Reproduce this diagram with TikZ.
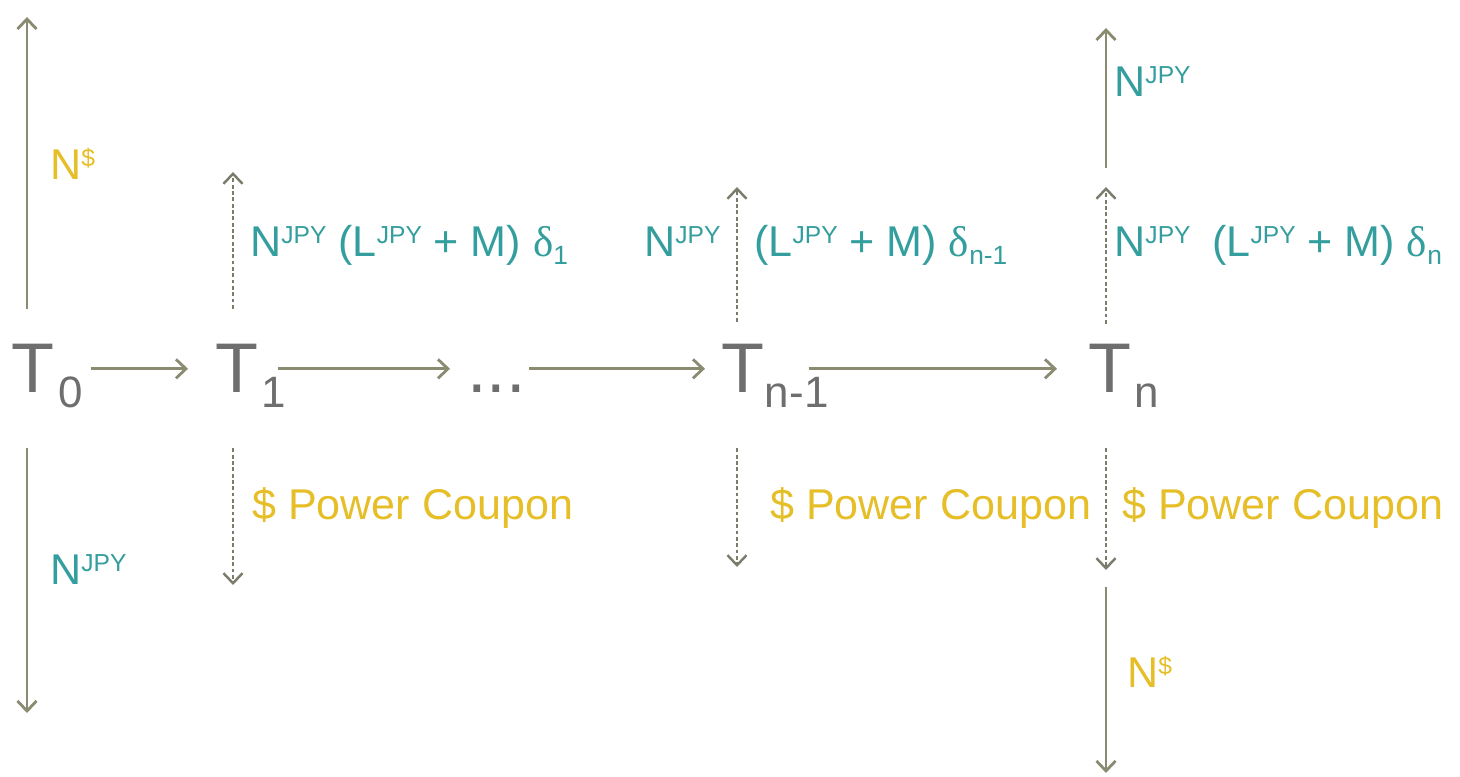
\documentclass[tikz,border=0pt]{standalone}
\usepackage{fontspec}
\setmainfont{Liberation Sans}
\newfontfamily\grkfont{Liberation Serif}
\usetikzlibrary{positioning, arrows.meta}
\definecolor{arrowolive}{HTML}{8A8B70}
\definecolor{dashgray}{HTML}{7C7C6C}
\definecolor{dategray}{HTML}{6E6E6E}
\definecolor{jpyteal}{HTML}{349E9E}
\definecolor{usdgold}{HTML}{E6BE28}
\newcommand{\supx}[1]{\raisebox{7.5pt}{\fontsize{14}{14}\selectfont #1}}
\newcommand{\subx}[1]{\raisebox{-4pt}{\fontsize{15}{15}\selectfont #1}}
\newcommand{\dlt}{{\grkfont δ}}
\tikzset{
  flow/.style={draw=arrowolive, line width=1.6pt, -{Straight Barb[length=2mm,width=3.8mm]}},
  couponflow/.style={draw=dashgray, line width=1.4pt, dash pattern=on 2.2pt off 1.4pt, -{Straight Barb[length=2mm,width=3.8mm]}},
  datelbl/.style={text=dategray, font=\fontsize{40}{40}\selectfont, inner sep=0pt, anchor=base west},
  sublbl/.style={text=dategray, font=\fontsize{25}{25}\selectfont, inner sep=0pt, anchor=base west},
  tealtxt/.style={text=jpyteal, font=\fontsize{24.5}{24.5}\selectfont, inner sep=0pt, anchor=base west},
  goldtxt/.style={text=usdgold, font=\fontsize{24.5}{24.5}\selectfont, inner sep=0pt, anchor=base west}
}

\begin{document}
\begin{tikzpicture}
\useasboundingbox (0,0) rectangle (29.2,15.54);
\node[datelbl] at (0.23,7.68) (T0) {T};
\node[datelbl] at (4.31,7.68) (T1) {T};
\node[datelbl] at (9.34,7.68) (dots) {...};
\node[datelbl] at (14.42,7.68) (Tn1) {T};
\node[datelbl] at (21.77,7.68) (Tn) {T};
\node[sublbl] at ([xshift=0.06cm, yshift=-0.3cm]T0.base east) (s0) {0};
\node[sublbl] at ([xshift=0.04cm, yshift=-0.3cm]T1.base east) (s1) {1};
\node[sublbl] at ([xshift=0.0cm, yshift=-0.3cm]Tn1.base east) (sn1) {n-1};
\node[sublbl] at ([xshift=0.04cm, yshift=-0.3cm]Tn.base east) (sn) {n};
\draw[flow, shorten <=0.71cm, shorten >=0.55cm] (T0.east) -- (T1.west);
\draw[flow, shorten <=0.37cm, shorten >=0.34cm] (T1.east) -- (T1.east -| dots.west);
\draw[flow, shorten <=0.06cm, shorten >=0.32cm] (dots.east |- Tn1.west) -- (Tn1.west);
\draw[flow, shorten <=0.88cm, shorten >=0.63cm] (Tn1.east) -- (Tn.west);
\coordinate (u0) at (0.54,15.2);
\coordinate (d0) at (0.54,1.28);
\coordinate (u1) at (4.66,12.1);
\coordinate (d1) at (4.66,3.84);
\coordinate (un1) at (14.74,11.8);
\coordinate (dn1) at (14.74,4.2);
\coordinate (un) at (22.12,11.8);
\coordinate (unmid) at (22.12,12.18);
\coordinate (untop) at (22.12,14.98);
\coordinate (dn) at (22.12,4.14);
\coordinate (dnmid) at (22.12,3.8);
\coordinate (dnbot) at (22.12,0.08);
\draw[flow, shorten <=0.71cm] (T0.north -| u0) -- (u0);
\draw[flow, shorten <=1.1cm] (T0.south -| d0) -- (d0);
\draw[couponflow, shorten <=0.71cm] (T1.north -| u1) -- (u1);
\draw[couponflow, shorten <=1.1cm] (T1.south -| d1) -- (d1);
\draw[couponflow, shorten <=0.45cm] (Tn1.north -| un1) -- (un1);
\draw[couponflow, shorten <=1.1cm] (Tn1.south -| dn1) -- (dn1);
\draw[couponflow, shorten <=0.41cm] (Tn.north -| un) -- (un);
\draw[flow] (unmid) -- (untop);
\draw[couponflow, shorten <=1.1cm] (Tn.south -| dn) -- (dn);
\draw[flow] (dnmid) -- (dnbot);
\node[goldtxt] at (1.0,11.94) (usd0) {N\supx{\$}};
\node[tealtxt] at (1.0,3.84) (jpy0) {N\supx{JPY}};
\node[tealtxt] at (5.0,10.4) (cpn1) {N\supx{JPY} (L\supx{JPY} + M) \dlt\subx{1}};
\node[goldtxt] at (5.04,5.14) (pwr1) {\$ Power Coupon};
\node[tealtxt] at (12.88,10.4) (jpyn1) {N\supx{JPY}};
\node[tealtxt] at (15.08,10.4) (cpnn1) {(L\supx{JPY} + M) \dlt\subx{n-1}};
\node[goldtxt] at (15.4,5.14) (pwrn1) {\$ Power Coupon};
\node[tealtxt] at (22.28,13.6) (jpyfin) {N\supx{JPY}};
\node[tealtxt] at (22.28,10.4) (jpyn) {N\supx{JPY}};
\node[tealtxt] at (24.24,10.4) (cpnn) {(L\supx{JPY} + M) \dlt\subx{n}};
\node[goldtxt] at (22.44,5.14) (pwrn) {\$ Power Coupon};
\node[goldtxt] at (22.54,1.78) (usdn) {N\supx{\$}};
\end{tikzpicture}
\end{document}
